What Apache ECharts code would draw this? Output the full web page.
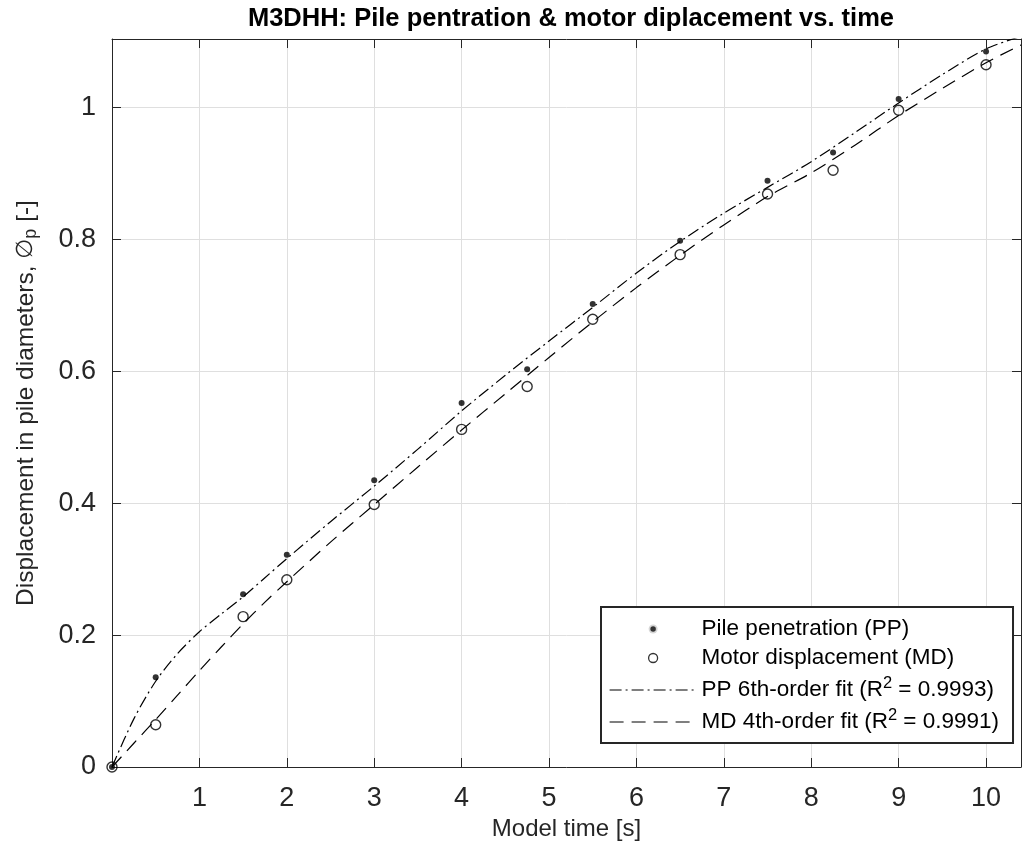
<!DOCTYPE html>
<html>
<head>
<meta charset="utf-8">
<script src="https://cdn.jsdelivr.net/npm/echarts@6/dist/echarts.min.js"></script>
<style>
  html, body { margin: 0; padding: 0; background: #fff; }
  #chart { width: 1024px; height: 855px; }
</style>
</head>
<body>
<div id="chart"></div>
<script>
// Measured samples: model time [s] and displacement in pile diameters [-]
const timeS = [0, 0.5, 1.5, 2, 3, 4, 4.75, 5.5, 6.5, 7.5, 8.25, 9, 10];
const pilePenetration = [0, 0.136, 0.262, 0.322, 0.435, 0.552, 0.603, 0.702, 0.798, 0.889, 0.932, 1.013, 1.085];
const motorDisplacement = [0, 0.064, 0.228, 0.284, 0.398, 0.512, 0.577, 0.679, 0.777, 0.869, 0.905, 0.996, 1.065];

// Polynomial fit curves, sampled along the time axis
const fitTime = [0, 0.25, 0.5, 0.75, 1, 1.25, 1.5, 1.75, 2, 2.5, 3, 3.5, 4, 4.5, 5, 5.5, 6, 6.5, 7, 7.5, 8, 8.5, 9, 9.5, 10, 10.4];
const ppFit = [0, 0.073, 0.130, 0.172, 0.205, 0.232, 0.258, 0.287, 0.316, 0.372, 0.426, 0.482, 0.540, 0.594, 0.646, 0.697, 0.749, 0.797, 0.840, 0.879, 0.918, 0.962, 1.007, 1.050, 1.089, 1.108];
const mdFit = [0, 0.036, 0.072, 0.109, 0.146, 0.182, 0.217, 0.250, 0.281, 0.341, 0.398, 0.455, 0.511, 0.566, 0.621, 0.675, 0.727, 0.776, 0.822, 0.865, 0.901, 0.943, 0.988, 1.029, 1.068, 1.095];

// Axis ticks
const xTicks = [1, 2, 3, 4, 5, 6, 7, 8, 9, 10];
const yTicks = [0, 0.2, 0.4, 0.6, 0.8, 1];

const seriesNames = [
  'Pile penetration (PP)',
  'Motor displacement (MD)',
  'PP 6th-order fit (R{sup|2} = 0.9993)',
  'MD 4th-order fit (R{sup|2} = 0.9991)'
];

const FONT = '"Liberation Sans", Arial, Helvetica, sans-serif';
const INK = '#262626';
const GRID = '#dfdfdf';
const X_MAX = 10.4;
const Y_MAX = 1.104;

const pairs = (xs, ys) => xs.map((x, i) => [x, ys[i]]);
const onTick = (v, list) => list.find(t => Math.abs(t - v) < 1e-6);

const chart = echarts.init(document.getElementById('chart'), null, { renderer: 'canvas' });

const baseX = {
  type: 'value', min: 0, max: X_MAX, interval: 1,
  axisLine: { show: true, onZero: false, lineStyle: { color: INK, width: 1 } },
  axisTick: { show: true, inside: true, length: 9, lineStyle: { color: INK } },
  splitLine: { show: false }
};
const baseY = {
  type: 'value', min: 0, max: Y_MAX, interval: 0.2,
  axisLine: { show: true, onZero: false, lineStyle: { color: INK, width: 1 } },
  axisTick: { show: true, inside: true, length: 9, lineStyle: { color: INK } },
  splitLine: { show: false }
};

chart.setOption({
  animation: false,
  backgroundColor: '#fff',
  title: {
    text: 'M3DHH: Pile pentration & motor diplacement vs. time',
    left: 571, top: 6, textAlign: 'center', padding: 0,
    textStyle: { fontFamily: FONT, fontSize: 25.5, fontWeight: 'bold', color: '#000' }
  },
  grid: { left: 112, right: -6, top: 39, bottom: 88, containLabel: false },
  xAxis: [
    Object.assign({}, baseX, {
      position: 'bottom',
      name: 'Model time [s]', nameLocation: 'middle', nameGap: 48,
      nameTextStyle: { fontFamily: FONT, fontSize: 24, color: INK },
      axisLabel: {
        fontFamily: FONT, fontSize: 27, color: INK, margin: 18,
        showMinLabel: true, showMaxLabel: true,
        formatter: v => { const t = onTick(v, xTicks); return t === undefined ? '' : String(t); }
      },
      splitLine: { show: true, lineStyle: { color: GRID, width: 1 } }
    }),
    Object.assign({}, baseX, { position: 'top', axisLabel: { show: false } })
  ],
  yAxis: [
    Object.assign({}, baseY, {
      position: 'left',
      name: 'Displacement in pile diameters, {phi|∅}{sub|p} [-]',
      nameLocation: 'middle', nameGap: 72,
      nameTextStyle: {
        fontFamily: FONT, fontSize: 24.5, color: INK,
        rich: {
          phi: { fontFamily: '"DejaVu Sans", sans-serif', fontStyle: 'italic', fontSize: 23, color: INK },
          sub: { fontFamily: FONT, fontSize: 18, color: INK, padding: [10, 0, 0, 0] }
        }
      },
      axisLabel: {
        fontFamily: FONT, fontSize: 27, color: INK, margin: 16,
        formatter: v => { const t = onTick(v, yTicks); return t === undefined ? '' : String(t); }
      },
      splitLine: { show: true, lineStyle: { color: GRID, width: 1 } }
    }),
    Object.assign({}, baseY, { position: 'right', axisLabel: { show: false } })
  ],
  legend: {
    orient: 'vertical',
    left: 601, top: 607,
    padding: [10, 14, 9, 8],
    itemWidth: 87, itemHeight: 9, itemGap: 5,
    backgroundColor: '#fff',
    borderColor: INK, borderWidth: 2, borderRadius: 0,
    selectedMode: false,
    textStyle: {
      fontFamily: FONT, fontSize: 22.5, color: '#000', lineHeight: 24,
      rich: { sup: { fontFamily: FONT, fontSize: 16.5, color: '#000', padding: [0, 0, 13, 0] } }
    },
    lineStyle: { width: 1.2 },
    data: [
      { name: seriesNames[0], icon: 'circle', itemStyle: { color: '#000', borderColor: '#fff', borderWidth: 3.5 } },
      { name: seriesNames[1], icon: 'circle', itemStyle: { color: '#fff', borderColor: '#000', borderWidth: 1.3 } },
      { name: seriesNames[2], itemStyle: { opacity: 0 } },
      { name: seriesNames[3], itemStyle: { opacity: 0 } }
    ]
  },
  series: [
    {
      name: seriesNames[0], type: 'scatter', z: 5,
      symbol: 'circle', symbolSize: 6,
      itemStyle: { color: '#000' },
      data: pairs(timeS, pilePenetration)
    },
    {
      name: seriesNames[1], type: 'scatter', z: 5,
      symbol: 'circle', symbolSize: 10,
      itemStyle: { color: 'rgba(255,255,255,0)', borderColor: '#000', borderWidth: 1.4 },
      data: pairs(timeS, motorDisplacement)
    },
    {
      name: seriesNames[2], type: 'line', z: 4,
      symbol: 'none', smooth: 0.3, clip: true,
      itemStyle: { color: '#000' },
      lineStyle: { color: '#000', width: 1.2, type: [12, 4, 2, 4] },
      data: pairs(fitTime, ppFit)
    },
    {
      name: seriesNames[3], type: 'line', z: 4,
      symbol: 'none', smooth: 0.3, clip: true,
      itemStyle: { color: '#000' },
      lineStyle: { color: '#000', width: 1.2, type: [14, 8] },
      data: pairs(fitTime, mdFit)
    }
  ]
});
</script>
</body>
</html>
